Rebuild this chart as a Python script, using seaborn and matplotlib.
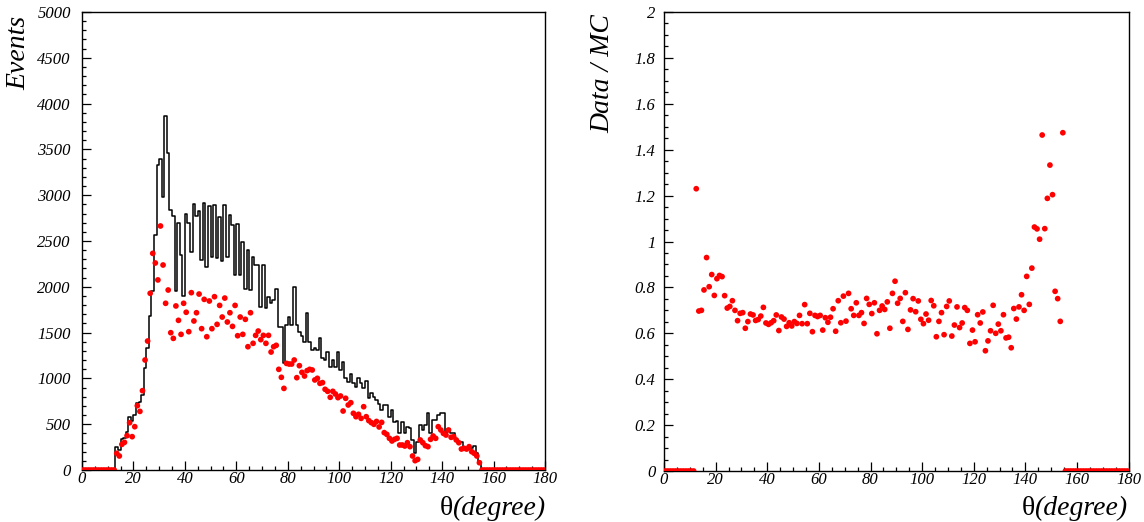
import numpy as np
import pandas as pd
import seaborn as sns
import matplotlib.pyplot as plt
from matplotlib.ticker import MultipleLocator, FuncFormatter

plt.rcParams['font.family'] = ['Liberation Serif', 'DejaVu Serif']
plt.rcParams['font.style'] = 'italic'

# 1-degree bins, 0..180
bin_edges = np.arange(0, 181, 1)
first_bin = 13          # first filled bin in the left panel
first_ratio_bin = 12    # first filled bin in the ratio panel

# MC histogram (black), bins 13..154
mc_counts = [
    255, 220, 340, 350, 420, 580, 530, 600, 730, 740,
    820, 1110, 1330, 1680, 1950, 2570, 3330, 3400, 2980, 3860,
    3460, 2840, 2770, 1950, 2700, 2350, 1900, 2800, 2700, 2380,
    2900, 2770, 2830, 2290, 2920, 2220, 2880, 2330, 2890, 2310,
    2760, 2280, 2890, 2330, 2780, 2680, 2130, 2690, 2130, 2490,
    1980, 2400, 1970, 2330, 2240, 2240, 1780, 2240, 1770, 1890,
    1820, 1860, 1980, 1565, 1565, 1165, 1580, 1670, 1580, 2000,
    1580, 1510, 1460, 1400, 1710, 1400, 1310, 1330, 1310, 1440,
    1220, 1200, 1290, 1130, 1200, 1130, 1290, 1090, 1180, 1000,
    965, 1050, 946, 910, 1000, 946, 890, 970, 782, 837,
    800, 760, 720, 660, 710, 710, 582, 655, 528, 540,
    400, 528, 400, 473, 460, 328, 182, 310, 491, 437,
    491, 619, 400, 546, 546, 601, 619, 619, 382, 450,
    400, 400, 328, 310, 310, 255, 230, 230, 237, 260,
    182, 91,
]

# data points (red), bins 13..154
data_counts = [
    182, 153, 280, 302, 375, 516, 364, 473, 702, 640,
    866, 1201, 1408, 1929, 2365, 2260, 2075, 2664, 2238, 1820,
    1965, 1499, 1437, 1791, 1634, 1481, 1820, 1722, 1510, 1936,
    1627, 1717, 1921, 1543, 1863, 1455, 1845, 1543, 1892, 1590,
    1797, 1670, 1877, 1616, 1717, 1568, 1797, 1466, 1670, 1481,
    1645, 1346, 1717, 1383, 1470, 1517, 1423, 1470, 1383, 1470,
    1288, 1346, 1361, 1099, 1012, 891, 1164, 1157, 1157, 1201,
    1008, 1139, 1066, 1026, 1085, 1099, 1092, 983, 1001, 946,
    954, 881, 859, 794, 859, 830, 790, 808, 644, 783,
    710, 735, 619, 582, 608, 564, 691, 582, 539, 517,
    499, 530, 470, 520, 408, 389, 346, 317, 335, 346,
    273, 273, 262, 298, 255, 153, 102, 116, 328, 298,
    266, 255, 335, 371, 346, 473, 437, 400, 382, 437,
    357, 364, 328, 298, 229, 237, 229, 255, 200, 182,
    153, 80,
]

# Data / MC, bins 12..154
ratio = [
    1.230, 0.697, 0.700, 0.789, 0.930, 0.803, 0.856, 0.765, 0.838, 0.852,
    0.847, 0.764, 0.710, 0.717, 0.742, 0.700, 0.655, 0.687, 0.690, 0.622,
    0.651, 0.684, 0.680, 0.656, 0.660, 0.675, 0.713, 0.645, 0.639, 0.646,
    0.655, 0.680, 0.612, 0.671, 0.662, 0.630, 0.646, 0.632, 0.651, 0.643,
    0.678, 0.642, 0.725, 0.642, 0.687, 0.607, 0.678, 0.673, 0.678, 0.614,
    0.668, 0.648, 0.670, 0.707, 0.609, 0.742, 0.646, 0.762, 0.653, 0.774,
    0.707, 0.678, 0.733, 0.678, 0.690, 0.643, 0.752, 0.726, 0.686, 0.733,
    0.598, 0.700, 0.719, 0.704, 0.737, 0.622, 0.774, 0.827, 0.731, 0.752,
    0.652, 0.777, 0.617, 0.702, 0.751, 0.694, 0.741, 0.661, 0.642, 0.684,
    0.657, 0.743, 0.720, 0.585, 0.652, 0.690, 0.594, 0.717, 0.741, 0.588,
    0.636, 0.715, 0.625, 0.645, 0.712, 0.700, 0.556, 0.614, 0.563, 0.681,
    0.645, 0.693, 0.524, 0.567, 0.611, 0.722, 0.600, 0.640, 0.611, 0.681,
    0.580, 0.583, 0.537, 0.708, 0.662, 0.715, 0.768, 0.700, 0.848, 0.726,
    0.884, 1.063, 1.055, 1.010, 1.464, 1.056, 1.188, 1.333, 1.204, 0.783,
    0.751, 0.652, 1.474,
]

centers = bin_edges[:-1] + 0.5
n_bins = len(centers)


def pad_bins(values, start):
    full = np.zeros(n_bins)
    full[start:start + len(values)] = values
    return full


df = pd.DataFrame({
    "theta": centers,
    "mc": pad_bins(mc_counts, first_bin),
    "data": pad_bins(data_counts, first_bin),
    "ratio": pad_bins(ratio, first_ratio_bin),
})

fig = plt.figure(figsize=(11.44, 5.22), dpi=100)
ax1 = fig.add_axes([0.0717, 0.0996, 0.4047, 0.8774])
ax2 = fig.add_axes([0.5804, 0.0977, 0.4062, 0.8793])

# left: MC histogram + data points
sns.histplot(data=df, x="theta", weights="mc", binwidth=1, binrange=(0, 180),
             element="step", fill=False, color="black", linewidth=1.1, ax=ax1)
sns.scatterplot(data=df, x="theta", y="data", color="red", s=17,
                edgecolor="none", legend=False, ax=ax1, zorder=3)

# right: ratio
sns.scatterplot(data=df, x="theta", y="ratio", color="red", s=17,
                edgecolor="none", legend=False, ax=ax2, zorder=3)

fmt = FuncFormatter(lambda v, p: "%g" % round(v, 3))

for ax in (ax1, ax2):
    ax.set_xlim(0, 180)
    ax.set_xlabel("")
    ax.set_ylabel("")
    ax.xaxis.set_major_locator(MultipleLocator(20))
    ax.xaxis.set_minor_locator(MultipleLocator(5))
    ax.tick_params(which="both", direction="in", top=False, right=False,
                   labelsize=12, width=0.9)
    ax.tick_params(which="major", length=6.5)
    ax.tick_params(which="minor", length=3.2)
    ax.tick_params(axis="x", pad=1)
    for sp in ax.spines.values():
        sp.set_linewidth(1.0)
    ax.xaxis.set_major_formatter(fmt)

ax1.set_ylim(0, 5000)
ax1.yaxis.set_major_locator(MultipleLocator(500))
ax1.yaxis.set_minor_locator(MultipleLocator(100))
ax1.tick_params(axis="y", pad=8)

ax2.set_ylim(0, 2)
ax2.yaxis.set_major_locator(MultipleLocator(0.2))
ax2.yaxis.set_minor_locator(MultipleLocator(0.05))
ax2.yaxis.set_major_formatter(fmt)
ax2.tick_params(axis="y", pad=6)

# x titles: upright theta followed by italic "(degree)", right-aligned
renderer = fig.canvas.get_renderer()
W = fig.bbox.width
for xr in (545, 1127):
    t = fig.text(xr / 1144, 7 / 522, "(degree)", ha="right", va="baseline",
                 fontsize=20, style="italic")
    bb = t.get_window_extent(renderer)
    fig.text(bb.x0 / W + 1 / 1144, 7 / 522, "\u03b8", ha="right",
             va="baseline", fontsize=20, style="normal")

fig.text(19 / 1144, 1 - 16 / 522, "Events", rotation=90, ha="center",
         va="top", fontsize=20)
fig.text(603 / 1144, 1 - 14 / 522, "Data / MC", rotation=90, ha="center",
         va="top", fontsize=20)

fig.savefig("out.png", dpi=100)
